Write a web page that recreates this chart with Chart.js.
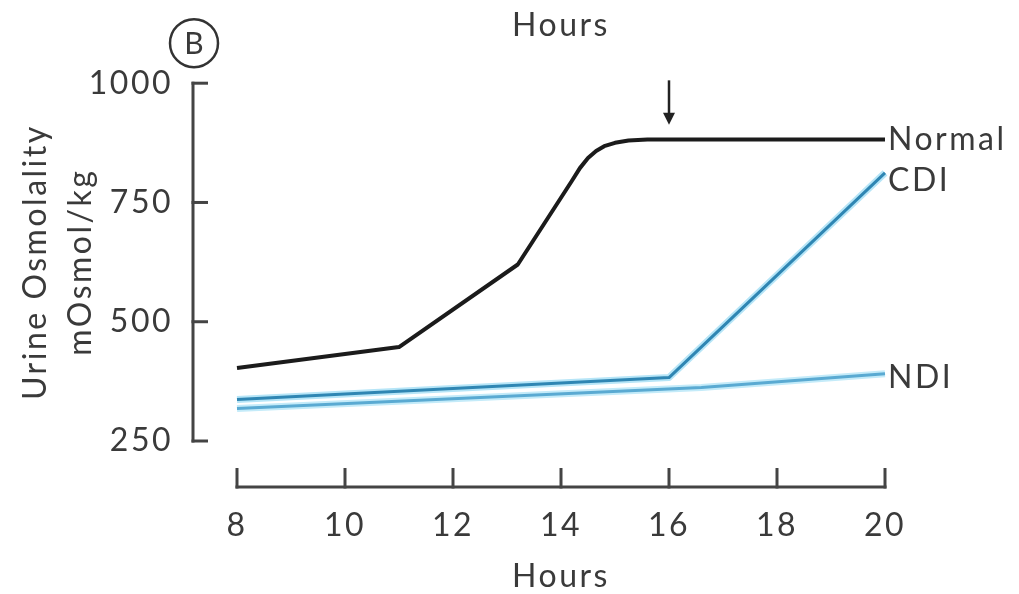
<!DOCTYPE html>
<html>
<head>
<meta charset="utf-8">
<title>Urine osmolality</title>
<script src="https://cdn.jsdelivr.net/npm/chart.js@4.4.1/dist/chart.umd.min.js"></script>
<style>
  html, body { margin: 0; padding: 0; background: #fff; }
  #wrap { width: 1019px; height: 594px; }
</style>
</head>
<body>
<div id="wrap"><canvas id="osmChart" width="1019" height="594"></canvas></div>
<script>
// values (hours, mOsmol/kg)
const normalHours = [8, 11, 13.2, 14.2, 14.35, 14.5, 14.65, 14.8, 15.0, 15.25, 15.6, 20];
const normalOsm   = [403, 447, 620, 795, 822, 843, 858, 868, 875, 880, 882, 882];
const cdiHours = [8, 16, 20];
const cdiOsm   = [337, 383, 812];
const ndiHours = [8, 16.6, 20];
const ndiOsm   = [318, 362, 391];

const xTicks = [8, 10, 12, 14, 16, 18, 20];
const yTicks = [250, 500, 750, 1000];
const seriesNames = ['Normal', 'CDI', 'NDI'];

// arrow marking the dose at 16 h
const arrowHour = 16;
const arrowFrom = 1006;
const arrowTo = 913;

const FONT = 'Lato';
const TEXT = '#3a3a3a';
const SPACING = '2.5px';

function pts(xs, ys) {
  return xs.map((x, i) => ({ x: x, y: ys[i] }));
}

// axes in the figure are detached from each other, draw them with the scales
const figureBits = {
  id: 'figureBits',
  beforeLayout(chart) {
    chart.ctx.letterSpacing = SPACING;
  },
  beforeDraw(chart) {
    chart.ctx.letterSpacing = SPACING;
  },
  afterDatasetsDraw(chart) {
    const ctx = chart.ctx;
    const xs = chart.scales.x, ys = chart.scales.y;
    const area = chart.chartArea;
    ctx.save();
    ctx.strokeStyle = '#444';
    ctx.lineWidth = 3;
    ctx.lineCap = 'butt';

    // y axis with inward ticks
    const ax = area.left - 44;
    ctx.beginPath();
    ctx.moveTo(ax, ys.getPixelForValue(yTicks[0]) + 1.5);
    ctx.lineTo(ax, ys.getPixelForValue(yTicks[yTicks.length - 1]) - 1.5);
    ctx.stroke();
    yTicks.forEach(v => {
      const py = ys.getPixelForValue(v);
      ctx.beginPath();
      ctx.moveTo(ax - 1.5, py);
      ctx.lineTo(ax + 15, py);
      ctx.stroke();
    });

    // x axis below, ticks pointing up
    const ay = area.bottom + 46;
    ctx.beginPath();
    ctx.moveTo(xs.getPixelForValue(xTicks[0]) - 1.5, ay);
    ctx.lineTo(xs.getPixelForValue(xTicks[xTicks.length - 1]) + 1.5, ay);
    ctx.stroke();
    xTicks.forEach(v => {
      const px = xs.getPixelForValue(v);
      ctx.beginPath();
      ctx.moveTo(px, ay + 1.5);
      ctx.lineTo(px, ay - 19);
      ctx.stroke();
    });

    // arrow
    const arx = xs.getPixelForValue(arrowHour);
    const top = ys.getPixelForValue(arrowFrom);
    const tip = ys.getPixelForValue(arrowTo);
    ctx.strokeStyle = '#222';
    ctx.fillStyle = '#222';
    ctx.lineWidth = 2.5;
    ctx.beginPath();
    ctx.moveTo(arx, top);
    ctx.lineTo(arx, tip - 8);
    ctx.stroke();
    ctx.beginPath();
    ctx.moveTo(arx - 6, tip - 12);
    ctx.lineTo(arx + 6, tip - 12);
    ctx.lineTo(arx, tip);
    ctx.closePath();
    ctx.fill();

    // circled B
    const cy = ys.getPixelForValue(yTicks[yTicks.length - 1]) - 40;
    ctx.strokeStyle = '#333';
    ctx.lineWidth = 2.5;
    ctx.beginPath();
    ctx.arc(ax + 1, cy, 24, 0, Math.PI * 2);
    ctx.stroke();
    ctx.fillStyle = TEXT;
    ctx.font = '30px ' + FONT;
    ctx.textAlign = 'center';
    ctx.textBaseline = 'middle';
    ctx.letterSpacing = '0px';
    ctx.fillText('B', ax + 1, cy + 1);

    // series names at line ends
    const offs = [0, 8, 4];
    ctx.font = '32px ' + FONT;
    ctx.textAlign = 'left';
    ctx.letterSpacing = SPACING;
    seriesNames.forEach((name, i) => {
      const meta = chart.getDatasetMeta(i);
      const last = meta.data[meta.data.length - 1];
      ctx.fillText(name, last.x + 3, last.y + offs[i]);
    });
    ctx.restore();
  }
};

const ctx = document.getElementById('osmChart').getContext('2d');
const osmChart = new Chart(ctx, {
  type: 'line',
  data: {
    datasets: [
      { label: seriesNames[0], data: pts(normalHours, normalOsm), borderColor: '#1b1b1b', borderWidth: 4, order: 1 },
      { label: seriesNames[1], data: pts(cdiHours, cdiOsm), borderColor: '#2f86b3', borderWidth: 3, order: 1 },
      { label: seriesNames[2], data: pts(ndiHours, ndiOsm), borderColor: '#5aaad2', borderWidth: 3, order: 1 },
      { label: 'cdi glow', data: pts(cdiHours, cdiOsm), borderColor: '#b6e5f7', borderWidth: 7, order: 2 },
      { label: 'ndi glow', data: pts(ndiHours, ndiOsm), borderColor: '#c4ebf9', borderWidth: 7, order: 2 }
    ]
  },
  options: {
    responsive: false,
    animation: false,
    clip: false,
    events: [],
    elements: {
      point: { radius: 0 },
      line: { tension: 0, borderJoinStyle: 'round', borderCapStyle: 'butt' }
    },
    layout: { padding: { top: 0, right: 134, bottom: 0, left: 0 } },
    plugins: {
      legend: { display: false },
      tooltip: { enabled: false },
      title: {
        display: true,
        text: 'Hours',
        fullSize: false,
        color: TEXT,
        font: { family: FONT, size: 32, weight: 'normal' },
        padding: { top: 3, bottom: 38.6 }
      }
    },
    scales: {
      x: {
        type: 'linear',
        min: 8,
        max: 20,
        grid: { display: false, drawTicks: false },
        border: { display: false },
        afterBuildTicks: s => { s.ticks = xTicks.map(v => ({ value: v })); },
        afterFit: s => { s.height = 153; },
        ticks: {
          padding: 65,
          color: TEXT,
          maxRotation: 0,
          callback: v => String(v),
          font: { family: FONT, size: 32 }
        },
        title: {
          display: true,
          text: 'Hours',
          color: TEXT,
          font: { family: FONT, size: 32, lineHeight: 1 },
          padding: { top: 0, bottom: 1 }
        }
      },
      y: {
        min: 250,
        max: 1000,
        grid: { display: false, drawTicks: false },
        border: { display: false },
        afterBuildTicks: s => { s.ticks = yTicks.map(v => ({ value: v })); },
        afterFit: s => { s.width = 237; },
        ticks: {
          padding: 64,
          color: TEXT,
          callback: v => String(v),
          font: { family: FONT, size: 32 }
        },
        title: {
          display: true,
          text: ['Urine Osmolality', 'mOsmol/kg'],
          color: TEXT,
          font: { family: FONT, size: 32, lineHeight: 1.4 },
          padding: { top: 13, bottom: 0 }
        }
      }
    }
  },
  plugins: [figureBits]
});
</script>
</body>
</html>
